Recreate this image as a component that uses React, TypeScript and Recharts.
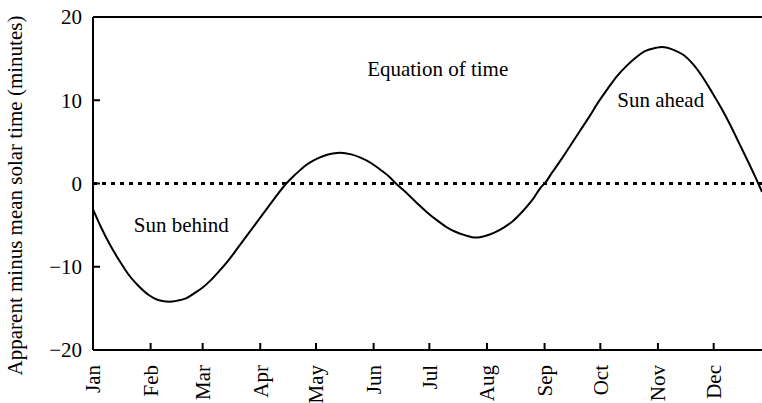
import {
  LineChart, Line, XAxis, YAxis, ReferenceLine, ReferenceDot,
} from 'recharts';

// month starts as day-of-year (Jan 1 = 0)
const monthStarts = [0, 31, 59, 90, 120, 151, 181, 212, 243, 273, 304, 334];
const monthLabels = ['Jan', 'Feb', 'Mar', 'Apr', 'May', 'Jun', 'Jul', 'Aug', 'Sep', 'Oct', 'Nov', 'Dec'];
const yTicks = [-20, -10, 0, 10, 20];

// sample days (day-of-year) and apparent minus mean solar time (minutes)
const sampleDays = [
  0, 4, 9, 14, 19, 24, 30, 35, 41, 45, 50, 55, 59,
  63, 68, 73, 78, 83, 89, 94, 99, 104, 109, 114, 119,
  124, 129, 133, 139, 144, 150, 155, 160, 163, 165, 170, 175, 180,
  185, 190, 195, 200, 206, 211, 216, 221, 226, 231, 236, 242,
  243, 247, 252, 257, 262, 267, 272, 277, 282, 287, 292, 297, 303,
  306, 313, 318, 323, 328, 333, 338, 343, 348, 353, 358, 360,
];
const eotMinutes = [
  -3.1, -5.1, -7.3, -9.2, -10.9, -12.2, -13.4, -14.0, -14.2, -14.1, -13.8, -13.1, -12.5,
  -11.7, -10.5, -9.2, -7.7, -6.2, -4.4, -2.9, -1.4, 0.0, 1.1, 2.1, 2.8,
  3.3, 3.6, 3.7, 3.5, 3.1, 2.4, 1.6, 0.7, 0.0, -0.4, -1.4, -2.5, -3.5,
  -4.4, -5.2, -5.8, -6.2, -6.5, -6.3, -5.9, -5.3, -4.5, -3.4, -2.1, -0.2,
  0.0, 1.3, 2.9, 4.6, 6.3, 8.0, 9.8, 11.4, 12.9, 14.1, 15.1, 15.9, 16.3,
  16.4, 16.0, 15.4, 14.3, 12.8, 11.0, 9.1, 7.0, 4.7, 2.4, 0.0, -1.0,
];

const notes = [
  { text: 'Equation of time', day: 185.5, value: 13.8 },
  { text: 'Sun behind', day: 47.5, value: -5.0 },
  { text: 'Sun ahead', day: 305.5, value: 10.1 },
];

const data = sampleDays.map((d, i) => ({ day: d, eot: eotMinutes[i] }));

const FS = 21;
const txt = { fontSize: FS, fill: '#000' };

const MonthTick = ({ x, y, payload }: { x?: number; y?: number; payload?: { value: number } }) => {
  const idx = monthStarts.indexOf(payload?.value ?? -1);
  return (
    <g transform={`translate(${x},${y})`}>
      <text className="eot-txt" transform="rotate(-90)" textAnchor="end" dy="0.35em" style={txt}>
        {monthLabels[idx]}
      </text>
    </g>
  );
};

const ValueTick = ({ x, y, payload }: { x?: number; y?: number; payload?: { value: number } }) => (
  <text className="eot-txt" x={x} y={y} textAnchor="end" dy="0.35em" style={txt}>
    {String(payload?.value ?? '').replace('-', '\u2212')}
  </text>
);

const YLabel = ({ viewBox }: { viewBox?: { x: number; y: number; width: number; height: number } }) => {
  if (!viewBox) return null;
  const cx = viewBox.x + 15;
  const cy = viewBox.y + viewBox.height / 2 + 12;
  return (
    <text className="eot-txt" x={cx} y={cy} transform={`rotate(-90, ${cx}, ${cy})`} textAnchor="middle" dy="0.35em" style={txt}>
      Apparent minus mean solar time (minutes)
    </text>
  );
};

const NoteLabel = ({ viewBox, value }: { viewBox?: { x: number; y: number; width?: number; height?: number }; value?: string }) => {
  if (!viewBox) return null;
  const cx = viewBox.x + (viewBox.width ?? 0) / 2;
  const cy = viewBox.y + (viewBox.height ?? 0) / 2;
  return (
    <text className="eot-txt" x={cx} y={cy} textAnchor="middle" dy="0.35em" style={txt}>
      {value}
    </text>
  );
};

export default function App() {
  return (
    <div style={{ position: 'absolute', left: 0, top: 0, width: 762, height: 403, background: '#fff' }}>
      <style>{`.eot-txt { font-family: 'Liberation Serif', 'Times New Roman', Times, serif !important; }`}</style>
      <LineChart width={762} height={403} data={data} margin={{ top: 17, right: 0, left: 0, bottom: 0 }}>
        <XAxis
          dataKey="day"
          type="number"
          domain={[0, 360]}
          ticks={monthStarts}
          allowDataOverflow
          height={53}
          stroke="#000"
          strokeWidth={2}
          tickSize={-7}
          tickMargin={22}
          tick={<MonthTick />}
          interval={0}
        />
        <YAxis
          type="number"
          domain={[-20, 20]}
          ticks={yTicks}
          width={93}
          stroke="#000"
          strokeWidth={2}
          tickSize={-7}
          tickMargin={18}
          tick={<ValueTick />}
          label={<YLabel />}
          interval={0}
        />
        <ReferenceLine y={20} stroke="#000" strokeWidth={2} />
        <ReferenceLine y={0} stroke="#000" strokeWidth={3} strokeDasharray="4 5" />
        {notes.map(n => (
          <ReferenceDot
            key={n.text}
            x={n.day}
            y={n.value}
            r={0}
            stroke="none"
            label={<NoteLabel value={n.text} />}
          />
        ))}
        <Line
          type="monotone"
          dataKey="eot"
          stroke="#000"
          strokeWidth={2}
          dot={false}
          isAnimationActive={false}
        />
      </LineChart>
    </div>
  );
}
